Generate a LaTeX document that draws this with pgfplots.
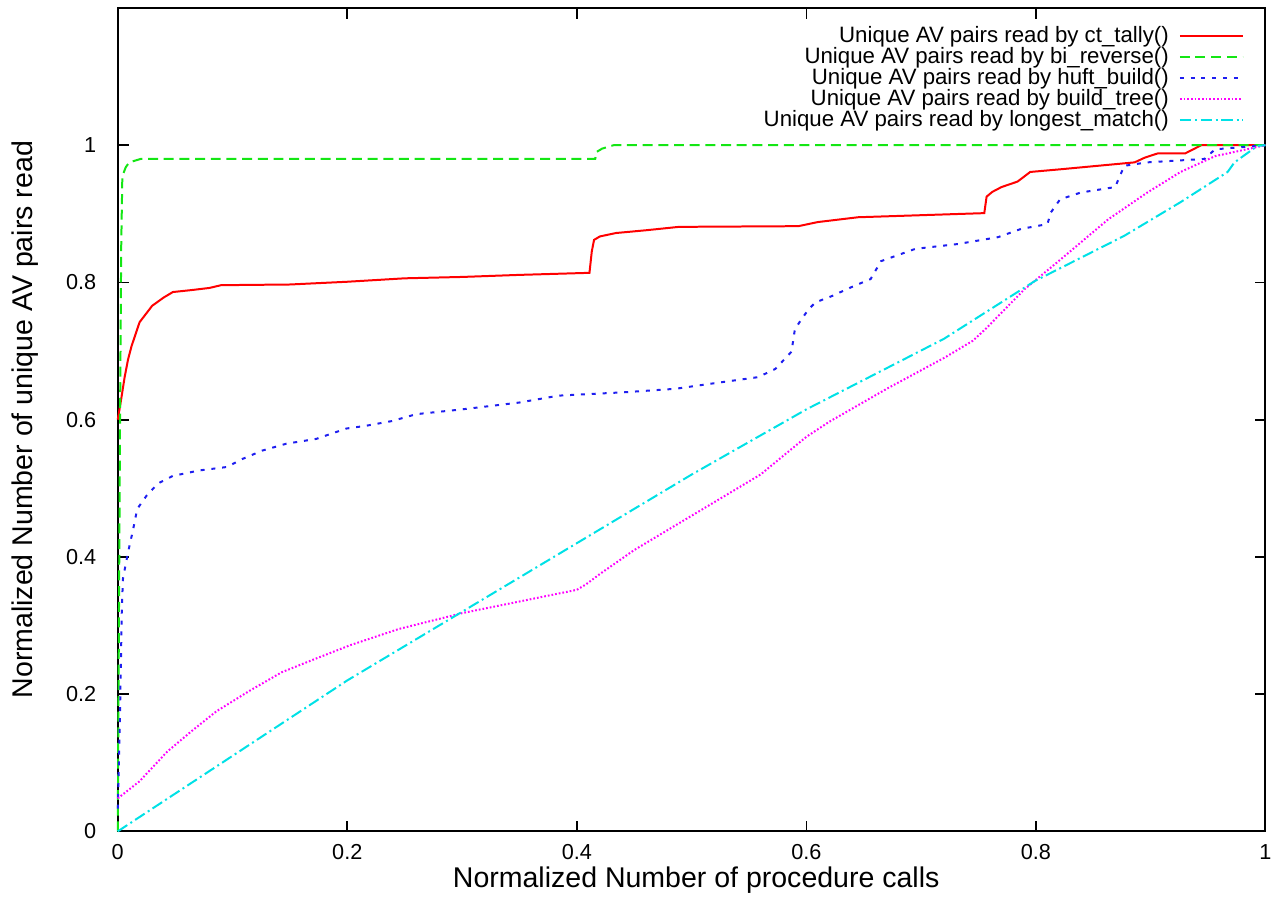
\documentclass[border=0pt]{standalone}
\usepackage{fontspec}
\setmainfont{Liberation Sans}
\usepackage{pgfplots}
\pgfplotsset{compat=1.18}

\definecolor{gpred}{RGB}{255,0,0}
\definecolor{gpgreen}{RGB}{20,230,20}
\definecolor{gpblue}{RGB}{30,30,240}
\definecolor{gpmagenta}{RGB}{255,0,255}
\definecolor{gpcyan}{RGB}{0,225,230}

\begin{document}
\begin{tikzpicture}
\begin{axis}[
    scale only axis,
    width=402.5pt, height=288.75pt,
    xmin=0, xmax=1, ymin=0, ymax=1.2,
    xtick={0,0.2,0.4,0.6,0.8,1},
    ytick={0,0.2,0.4,0.6,0.8,1},
    tick align=inside,
    major tick length=3.8pt,
    tick style={black, line width=0.6pt},
    axis line style={line width=0.7pt},
    /pgf/number format/assume math mode=true,
    ticklabel style={font=\fontsize{7.6}{9}\selectfont},
    xticklabel style={yshift=-1pt},
    yticklabel style={xshift=-4pt},
    xlabel={Normalized Number of procedure calls},
    ylabel={Normalized Number of unique AV pairs read},
    label style={font=\fontsize{10}{12}\selectfont},
    xlabel style={at={(axis description cs:0.504,-0.059)}, anchor=center},
    ylabel style={at={(axis description cs:-0.081,0.5)}, anchor=center},
    clip=false,
    legend plot pos=right,
    legend cell align=right,
    legend image code/.code={\draw[#1] (0pt,0pt) -- (22pt,0pt);},
    legend style={draw=none, fill=none,
        at={(axis description cs:1,1)}, anchor=north east,
        xshift=-4.5pt, yshift=-3.2pt,
        font=\fontsize{7.8}{8}\selectfont,
        row sep=-1.8pt, column sep=2.5pt,
        nodes={inner sep=1pt}},
    every axis plot/.append style={line width=0.7pt, mark=none},
]
% ct_tally
\addplot[gpred] coordinates {
(0,0.6) (0.003,0.63) (0.006,0.662) (0.009,0.688) (0.012,0.707) (0.019,0.742)
(0.03,0.766) (0.04,0.778) (0.048,0.786) (0.065,0.789) (0.08,0.792) (0.09,0.796)
(0.15,0.797) (0.2,0.801) (0.25,0.806) (0.3,0.808) (0.35,0.811) (0.411,0.814)
(0.413,0.845) (0.415,0.862) (0.42,0.867) (0.434,0.872) (0.46,0.876) (0.489,0.881)
(0.593,0.882) (0.61,0.888) (0.645,0.895) (0.7,0.898) (0.755,0.901) (0.757,0.925)
(0.762,0.932) (0.77,0.939) (0.784,0.947) (0.795,0.961) (0.822,0.965) (0.886,0.975)
(0.895,0.982) (0.906,0.988) (0.93,0.988) (0.944,1.0) (1,1)};
\addlegendentry{Unique AV pairs read by ct\_tally()}
% bi_reverse
\addplot[gpgreen, dash pattern=on 3.5pt off 2pt] coordinates {
(0,0) (0.001,0.3) (0.002,0.6) (0.003,0.85) (0.004,0.955) (0.007,0.968)
(0.01,0.975) (0.02,0.98) (0.416,0.98) (0.417,0.99) (0.422,0.995) (0.432,1.0) (1,1)};
\addlegendentry{Unique AV pairs read by bi\_reverse()}
% huft_build
\addplot[gpblue, dash pattern=on 1.4pt off 2.4pt] coordinates {
(0,0.033) (0.002,0.175) (0.003,0.27) (0.0035,0.32) (0.0045,0.368) (0.009,0.407)
(0.013,0.437) (0.017,0.47) (0.025,0.489) (0.035,0.507) (0.048,0.518) (0.071,0.526)
(0.095,0.531) (0.109,0.543) (0.126,0.555) (0.147,0.565) (0.173,0.572) (0.199,0.587)
(0.216,0.591) (0.239,0.598) (0.26,0.608) (0.3,0.615) (0.35,0.625) (0.384,0.635)
(0.442,0.64) (0.486,0.645) (0.515,0.652) (0.558,0.662) (0.573,0.674) (0.587,0.699)
(0.59,0.732) (0.596,0.747) (0.602,0.761) (0.608,0.771) (0.622,0.78) (0.639,0.793)
(0.656,0.805) (0.665,0.831) (0.695,0.849) (0.732,0.856) (0.767,0.866) (0.787,0.878)
(0.81,0.885) (0.813,0.902) (0.821,0.921) (0.839,0.931) (0.869,0.939) (0.877,0.97)
(0.897,0.975) (0.947,0.98) (0.956,0.994) (1,1)};
\addlegendentry{Unique AV pairs read by huft\_build()}
% build_tree
\addplot[gpmagenta, dash pattern=on 0.6pt off 0.7pt] coordinates {
(0,0.048) (0.019,0.073) (0.043,0.116) (0.065,0.147) (0.086,0.175) (0.115,0.205)
(0.143,0.232) (0.173,0.252) (0.202,0.271) (0.245,0.295) (0.3,0.318) (0.35,0.335)
(0.4,0.352) (0.408,0.36) (0.42,0.375) (0.45,0.41) (0.5,0.46) (0.56,0.52)
(0.6,0.575) (0.62,0.597) (0.67,0.645) (0.72,0.69) (0.745,0.715) (0.756,0.732)
(0.79,0.79) (0.819,0.83) (0.863,0.892) (0.897,0.931) (0.926,0.961) (0.956,0.984) (1,1)};
\addlegendentry{Unique AV pairs read by build\_tree()}
% longest_match
\addplot[gpcyan, dash pattern=on 4pt off 1.3pt on 0.7pt off 1.3pt] coordinates {
(0,0) (0.1,0.11) (0.2,0.22) (0.3,0.32) (0.4,0.42) (0.5,0.52) (0.6,0.615)
(0.72,0.718) (0.799,0.802) (0.877,0.868) (0.926,0.917) (0.967,0.961)
(0.973,0.975) (0.993,0.999) (1,1)};
\addlegendentry{Unique AV pairs read by longest\_match()}
\path (rel axis cs:-0.1026,-0.0836) rectangle (rel axis cs:1.0113,1.0097);
\end{axis}
\end{tikzpicture}
\end{document}
